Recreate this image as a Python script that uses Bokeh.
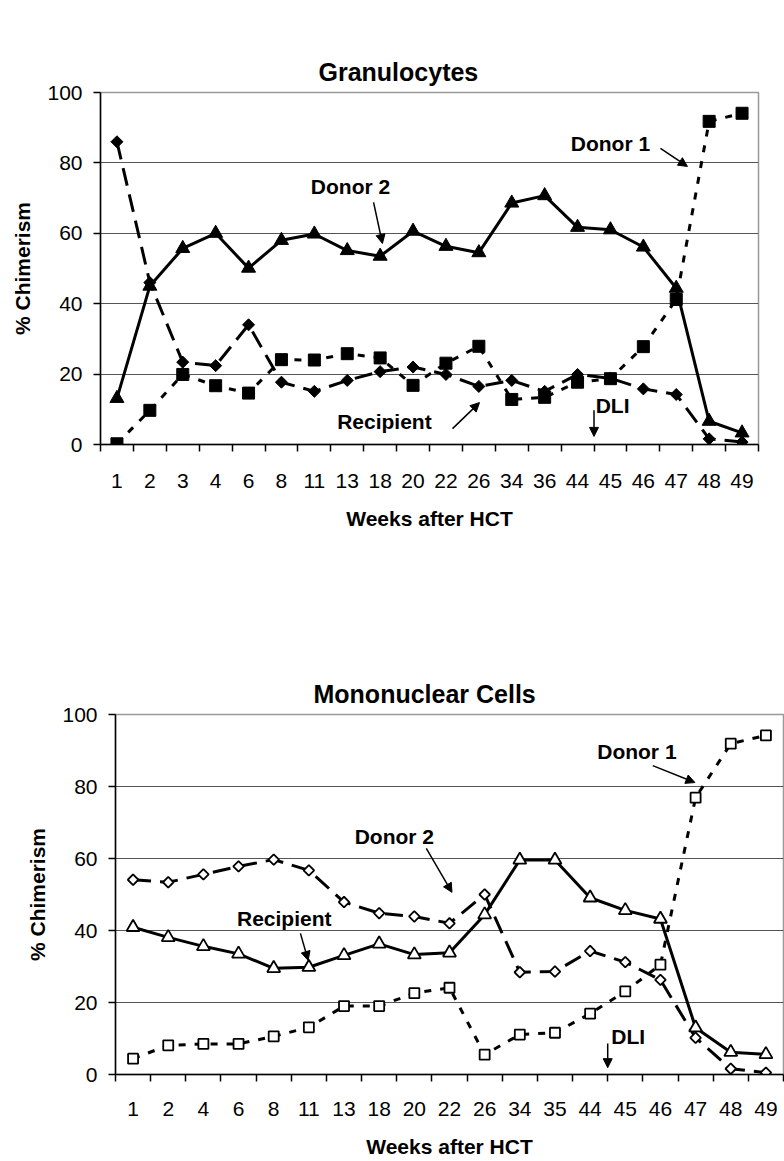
import numpy as np
from bokeh.plotting import figure
from bokeh.models import Range1d, FixedTicker, Arrow, NormalHead, Label, Title
from bokeh.layouts import column
from bokeh.embed import file_html
from bokeh.resources import INLINE

FONT = "Liberation Sans"

# ---- Granulocytes ----
gran_weeks = ["1", "2", "3", "4", "6", "8", "11", "13", "18", "20", "22", "26",
              "34", "36", "44", "45", "46", "47", "48", "49"]
gran_donor2 = [13.1, 45.0, 55.7, 60.0, 50.1, 58.0, 59.8, 55.1, 53.5, 60.6, 56.3, 54.5,
               68.6, 70.7, 61.7, 61.0, 56.1, 44.4, 6.6, 3.3]
gran_recipient = [86.0, 46.0, 23.4, 22.4, 34.0, 17.7, 15.1, 18.2, 20.7, 22.0, 19.9, 16.5,
                  18.2, 15.1, 19.9, 18.8, 15.8, 14.2, 1.6, 0.7]
gran_donor1 = [0.2, 9.7, 19.9, 16.7, 14.6, 24.1, 24.0, 25.8, 24.6, 16.8, 23.1, 27.9,
               12.8, 13.4, 17.7, 18.7, 27.8, 41.2, 91.8, 94.1]

# ---- Mononuclear cells ----
mono_weeks = ["1", "2", "4", "6", "8", "11", "13", "18", "20", "22", "26", "34", "35",
              "44", "45", "46", "47", "48", "49"]
mono_recipient = [40.9, 38.1, 35.6, 33.5, 29.5, 29.8, 33.1, 36.3, 33.3, 33.8, 44.4, 59.6,
                  59.6, 49.1, 45.6, 43.2, 13.0, 6.2, 5.6]
mono_donor2 = [54.1, 53.4, 55.6, 57.8, 59.7, 56.7, 47.9, 44.8, 43.9, 42.0, 50.0, 28.4,
               28.6, 34.3, 31.2, 26.3, 10.2, 1.6, 0.5]
mono_donor1 = [4.4, 8.1, 8.5, 8.5, 10.6, 13.1, 19.0, 19.0, 22.6, 24.1, 5.5, 11.1, 11.6,
               16.9, 23.1, 30.5, 76.9, 91.9, 94.2]

y_ticks = [0, 20, 40, 60, 80, 100]


def make_chart(title, weeks, width, height, left, right, top, bottom,
               gap, title_offset, label_standoff):
    n = len(weeks)
    p = figure(width=width, height=height, output_backend="svg", toolbar_location=None,
               x_range=Range1d(0, n), y_range=Range1d(0, 100),
               min_border_left=left, min_border_right=right,
               min_border_top=top, min_border_bottom=bottom,
               background_fill_color="white", border_fill_color="white")
    p.frame_align = False
    # chart title first, then a blank spacer that sits between the title and the frame
    p.add_layout(Title(text=title, text_font=FONT, text_font_size="25px",
                       text_font_style="bold", text_color="black", align="left",
                       vertical_align="top", offset=title_offset, standoff=10), "above")
    p.add_layout(Title(text=" ", text_font_size="1px", text_alpha=0.0, standoff=gap), "above")

    centers = [i + 0.5 for i in range(n)]
    bounds = list(range(n + 1))
    xa = p.below[0]
    xa.ticker = FixedTicker(ticks=centers, minor_ticks=bounds)
    xa.major_label_overrides = {c: w for c, w in zip(centers, weeks)}
    xa.major_tick_out = 0
    xa.major_tick_in = 0
    xa.minor_tick_out = 7
    xa.minor_tick_in = 0
    xa.minor_tick_line_color = "black"
    xa.minor_tick_line_width = 1.5
    xa.axis_line_color = "black"
    xa.axis_line_width = 1.5
    xa.major_label_text_font = FONT
    xa.major_label_text_font_size = "21px"
    xa.major_label_text_color = "black"
    xa.major_label_standoff = label_standoff
    xa.axis_label = "Weeks after HCT"
    xa.axis_label_text_font = FONT
    xa.axis_label_text_font_size = "21px"
    xa.axis_label_text_font_style = "bold"
    xa.axis_label_text_color = "black"
    xa.axis_label_standoff = 16

    ya = p.left[0]
    ya.ticker = FixedTicker(ticks=y_ticks)
    ya.minor_tick_line_color = None
    ya.major_tick_out = 7
    ya.major_tick_in = 0
    ya.major_tick_line_color = "black"
    ya.major_tick_line_width = 1.5
    ya.axis_line_color = "black"
    ya.axis_line_width = 1.5
    ya.major_label_text_font = FONT
    ya.major_label_text_font_size = "21px"
    ya.major_label_text_color = "black"
    ya.major_label_standoff = 11
    ya.axis_label = "% Chimerism"
    ya.axis_label_text_font = FONT
    ya.axis_label_text_font_size = "21px"
    ya.axis_label_text_font_style = "bold"
    ya.axis_label_text_color = "black"
    ya.axis_label_standoff = 10

    p.xgrid.visible = False
    p.ygrid.ticker = FixedTicker(ticks=[20, 40, 60, 80])
    p.ygrid.grid_line_color = "#555555"
    p.ygrid.grid_line_width = 1
    p.outline_line_color = "#999999"
    p.outline_line_width = 1.5
    return p, centers


def note(p, x, y, text, align="center"):
    p.add_layout(Label(x=x, y=y, text=text, text_font=FONT, text_font_size="21px",
                       text_font_style="bold", text_align=align, text_baseline="middle",
                       text_color="black"))


def arrow(p, x0, y0, x1, y1):
    p.add_layout(Arrow(end=NormalHead(size=9, fill_color="black", line_color="black"),
                       x_start=x0, y_start=y0, x_end=x1, y_end=y1,
                       line_color="black", line_width=1.5))


# ---------- Top chart ----------
p1, xs1 = make_chart("Granulocytes", gran_weeks, 784, 624, 100, 26, 92, 180,
                     gap=47, title_offset=218, label_standoff=22)
p1.line(xs1, gran_donor1, line_color="black", line_width=3, line_dash="7 9")
p1.line(xs1, gran_recipient, line_color="black", line_width=3, line_dash="18 9")
p1.line(xs1, gran_donor2, line_color="black", line_width=3)
p1.scatter(xs1, gran_donor1, marker="square", size=12, fill_color="black", line_color="black")
p1.scatter(xs1, gran_recipient, marker="square", angle=np.pi / 4, size=8.5,
           fill_color="black", line_color="black")
p1.scatter(xs1, gran_donor2, marker="triangle", size=14, fill_color="black", line_color="black")

note(p1, 7.6, 73.3, "Donor 2")
arrow(p1, 8.30, 68.8, 8.57, 57.1)
note(p1, 15.5, 85.5, "Donor 1")
arrow(p1, 17.02, 84.1, 17.84, 79.0)
note(p1, 8.63, 6.5, "Recipient")
arrow(p1, 10.70, 4.5, 11.52, 11.9)
note(p1, 15.05, 11.1, "DLI", align="left")
arrow(p1, 15.0, 9.7, 15.0, 2.3)

# ---------- Bottom chart ----------
p2, xs2 = make_chart("Mononuclear Cells", mono_weeks, 784, 537, 115, 1, 90, 87,
                     gap=45, title_offset=198, label_standoff=20)
p2.line(xs2, mono_donor1, line_color="black", line_width=3, line_dash="7 9")
p2.line(xs2, mono_donor2, line_color="black", line_width=3, line_dash="18 9")
p2.line(xs2, mono_recipient, line_color="black", line_width=3)
p2.scatter(xs2, mono_donor1, marker="square", size=10, fill_color="white",
           line_color="black", line_width=1.8)
p2.scatter(xs2, mono_donor2, marker="square", angle=np.pi / 4, size=7.5,
           fill_color="white", line_color="black", line_width=1.8)
p2.scatter(xs2, mono_recipient, marker="triangle", size=13, fill_color="white",
           line_color="black", line_width=1.8)

note(p2, 14.83, 89.7, "Donor 1")
arrow(p2, 15.28, 85.8, 16.48, 81.1)
note(p2, 7.93, 66.1, "Donor 2")
arrow(p2, 8.84, 62.8, 9.57, 50.6)
note(p2, 4.80, 43.3, "Recipient")
arrow(p2, 5.26, 39.2, 5.48, 31.7)
note(p2, 14.1, 10.6, "DLI", align="left")
arrow(p2, 14.0, 8.6, 14.0, 1.9)

layout = column(p1, p2, spacing=0)
open("out.html", "w").write(file_html(layout, INLINE))
